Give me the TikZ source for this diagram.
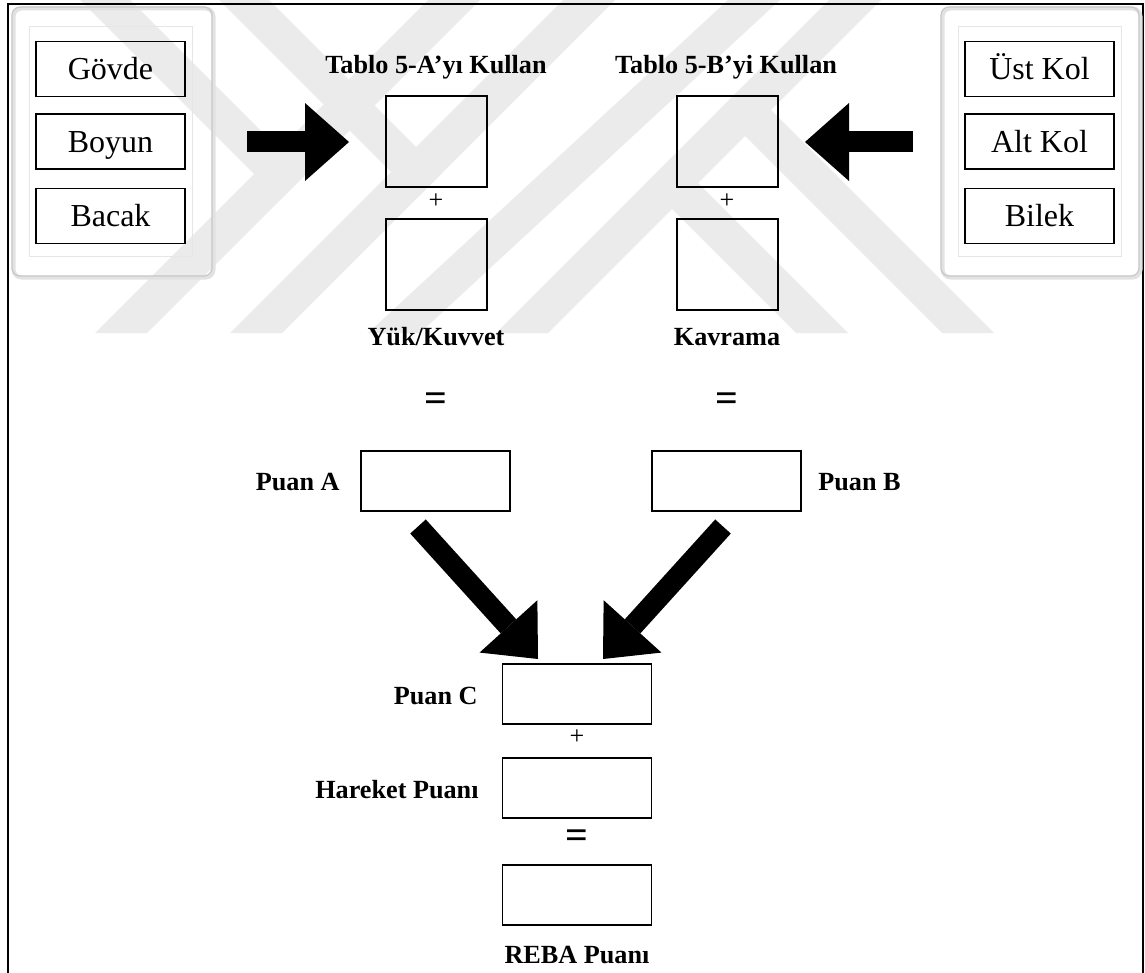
\documentclass[tikz,border=0pt]{standalone}
\usepackage{fontspec}
\setmainfont{Liberation Serif}
\usetikzlibrary{arrows.meta}
\definecolor{wm}{RGB}{235,235,235}
\definecolor{panelline}{RGB}{200,200,200}
\definecolor{panelshadow}{RGB}{226,226,226}
\definecolor{innerline}{RGB}{230,230,230}
\begin{document}
\begin{tikzpicture}[x=0.5pt,y=-0.5pt,
  box/.style={draw, line width=0.7pt, minimum width=74.5pt, minimum height=27.5pt, inner sep=0pt,
    font=\fontsize{16}{19}\selectfont, text height=10.6pt, text depth=0pt},
  sq/.style={draw, line width=0.7pt, minimum width=50.5pt, minimum height=45.5pt, inner sep=0pt},
  pbox/.style={draw, line width=0.7pt, minimum width=74.5pt, minimum height=30pt, inner sep=0pt},
  lbl/.style={font=\bfseries\fontsize{13.1}{15}\selectfont, inner sep=0pt},
  plus/.style={font=\fontsize{13}{15}\selectfont, inner sep=0pt},
  eq/.style={font=\bfseries\fontsize{20}{22}\selectfont, inner sep=0pt},
  barrow/.style={line width=10.5pt, -{Triangle[length=22pt,width=39pt,line width=0pt]}},
  wmband/.style={fill=wm},
  panelout/.style={draw=panelline, line width=0.6pt, rounded corners=4pt},
  panelsh/.style={draw=panelshadow, line width=2pt, rounded corners=4pt},
  panelin/.style={draw=innerline, line width=0.5pt}
]
\useasboundingbox (0,0) rectangle (1145,973);

% watermark
\fill[wmband] (95,333) -- (147,333) -- (480,0) -- (428,0) -- cycle;
\fill[wmband] (230,333) -- (282,333) -- (615,0) -- (563,0) -- cycle;
\fill[wmband] (368,333) -- (420,333) -- (780,0) -- (728,0) -- cycle;
\fill[wmband] (496,333) -- (548,333) -- (881,0) -- (829,0) -- cycle;
\fill[wmband] (80,0) -- (130,0) -- (305,175) -- (280,200) -- cycle;
\fill[wmband] (219,0) -- (269,0) -- (442,173) -- (417,198) -- cycle;
\fill[wmband] (796,333) -- (848,333) -- (672,157) -- (646,183) -- cycle;
\fill[wmband] (942,333) -- (994,333) -- (745,84) -- (719,110) -- cycle;

% frame
\draw[line width=0.9pt] (8,990) -- (8,4) -- (1143,4) -- (1143,990);

% panels
\draw[panelsh] (13.5,8.5) rectangle (213.5,277.5);
\draw[panelout] (12,7) rectangle (212,276);
\draw[panelin] (29,27) rectangle (192,257);
\draw[panelsh] (942.5,8.5) rectangle (1140.5,277.5);
\draw[panelout] (941,7) rectangle (1139,276);
\draw[panelin] (958,27) rectangle (1121,257);

% left / right boxes
\node[box] (govde) at (110.5,69) {Gövde};
\node[box] (boyun) at (110.5,141.5) {Boyun};
\node[box] (bacak) at (110.5,216) {Bacak};
\node[box] (ustkol) at (1039.5,69) {Üst Kol};
\node[box] (altkol) at (1039.5,141.5) {Alt Kol};
\node[box] (bilek) at (1039.5,216) {Bilek};

% table labels and squares
\node[lbl, anchor=base] (tA) at (436,74) {Tablo 5-A’yı Kullan};
\node[lbl, anchor=base] (tB) at (726,74) {Tablo 5-B’yi Kullan};
\node[sq] (a1) at (436.5,141.5) {};
\node[sq] (a2) at (436.5,264.5) {};
\node[sq] (b1) at (727.5,141.5) {};
\node[sq] (b2) at (727.5,264.5) {};
\node[plus] (plA) at (436,201) {+};
\node[plus] (plB) at (727,201) {+};
\node[lbl, anchor=base] (yk) at (436,345) {Yük/Kuvvet};
\node[lbl, anchor=base] (kv) at (727,345) {Kavrama};
\node[eq] (eqA) at (436,402) {=};
\node[eq] (eqB) at (727,402) {=};

% Puan A / B
\node[pbox] (pA) at (435.5,481) {};
\node[pbox] (pB) at (726.5,481) {};
\node[lbl, anchor=base east] (lpa) at (340,490) {Puan A};
\node[lbl, anchor=base west] (lpb) at (818,490) {Puan B};

% bottom column
\node[pbox] (pC) at (577,694) {};
\node[pbox] (pH) at (577,788) {};
\node[pbox] (pR) at (577,895) {};
\node[lbl, anchor=base east] (lpc) at (478,704) {Puan C};
\node[lbl, anchor=base east] (lph) at (479,798) {Hareket Puanı};
\node[lbl, anchor=base] (lpr) at (577,963) {REBA Puanı};
\node[plus] (plC) at (577,737) {+};
\node[eq] (eqC) at (577,839) {=};

% block arrows
\coordinate (ha1) at (247,142);
\coordinate (ha2) at (349,142);
\coordinate (hb1) at (913,142);
\coordinate (hb2) at (805,142);
\coordinate (da1) at (418,526.5);
\coordinate (da2) at (538,659);
\coordinate (db1) at (723,526.5);
\coordinate (db2) at (603,659);
\draw[barrow] (ha1) -- (ha2);
\draw[barrow] (hb1) -- (hb2);
\draw[barrow] (da1) -- (da2);
\draw[barrow] (db1) -- (db2);
\end{tikzpicture}
\end{document}
